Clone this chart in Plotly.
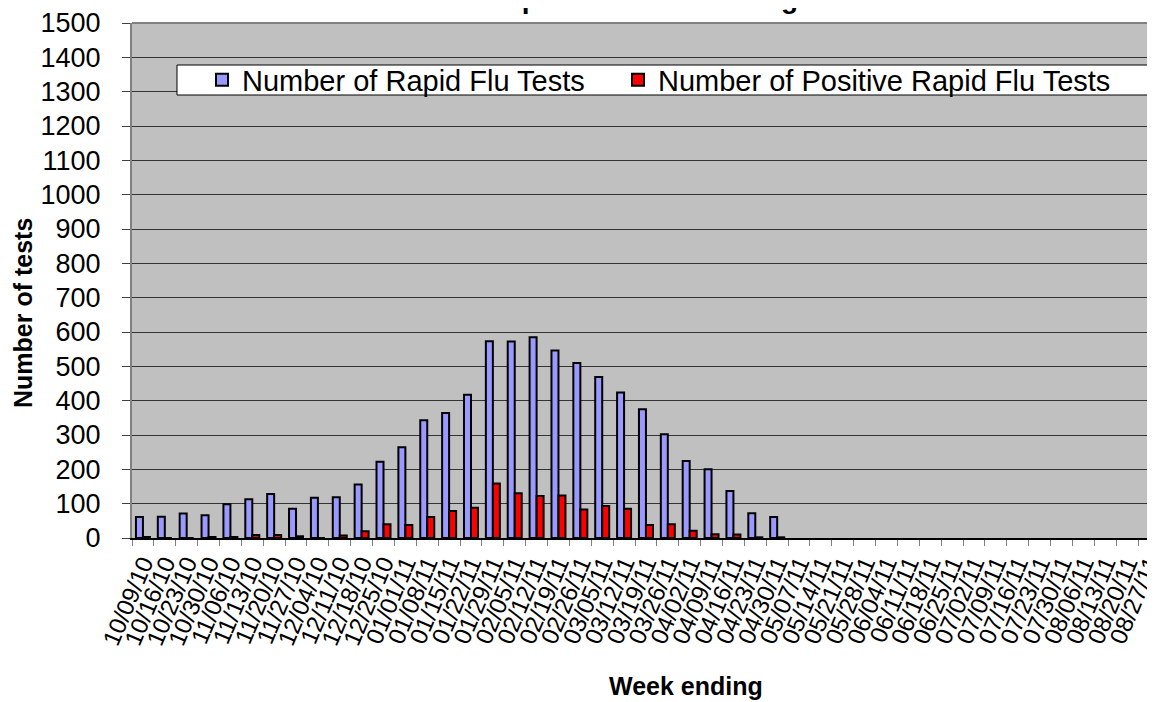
import plotly.graph_objects as go

weeks = ["10/09/10", "10/16/10", "10/23/10", "10/30/10", "11/06/10", "11/13/10", "11/20/10", "11/27/10",
         "12/04/10", "12/11/10", "12/18/10", "12/25/10", "01/01/11", "01/08/11", "01/15/11", "01/22/11",
         "01/29/11", "02/05/11", "02/12/11", "02/19/11", "02/26/11", "03/05/11", "03/12/11", "03/19/11",
         "03/26/11", "04/02/11", "04/09/11", "04/16/11", "04/23/11", "04/30/11", "05/07/11", "05/14/11",
         "05/21/11", "05/28/11", "06/04/11", "06/11/11", "06/18/11", "06/25/11", "07/02/11", "07/09/11",
         "07/16/11", "07/23/11", "07/30/11", "08/06/11", "08/13/11", "08/20/11", "08/27/11"]

rapid_tests = [61, 62, 71, 66, 98, 113, 128, 85, 117, 119, 156, 222, 264, 343, 364, 417,
               573, 572, 585, 546, 510, 469, 424, 375, 302, 224, 200, 137, 72, 61] + [None] * 17

positive_tests = [3, 0, 0, 3, 3, 9, 9, 5, 0, 7, 20, 40, 38, 61, 79, 88,
                  159, 130, 122, 124, 83, 93, 85, 38, 40, 21, 11, 10, 2, 2] + [None] * 17

y_ticks = list(range(0, 1501, 100))

FONT = "Liberation Sans, Arial, sans-serif"

# page body offset of the figure inside the browser window
OFF = 8
W, H = 1155, 702
L, R = 132 - OFF, 0
T = 23 - OFF
B = H - (538 - OFF)
pw = W - L - R
ph = H - T - B
cat_w = 21.87


def px_x(sx):
    return (sx - OFF - L) / pw


def px_y(sy):
    return (H - B - (sy - OFF)) / ph


fig = go.Figure()
fig.add_trace(go.Bar(x=weeks, y=rapid_tests, name="Number of Rapid Flu Tests", legend="legend",
                     marker=dict(color="#9999FF", line=dict(color="#000000", width=2))))
fig.add_trace(go.Bar(x=weeks, y=positive_tests, name="Number of Positive Rapid Flu Tests", legend="legend2",
                     marker=dict(color="#FF0000", line=dict(color="#000000", width=2))))

legend_common = dict(
    orientation="h", xanchor="left", yanchor="middle",
    bgcolor="rgba(0,0,0,0)", borderwidth=0,
    font=dict(family=FONT, size=29, color="#000000"),
    itemclick=False, itemdoubleclick=False,
)

fig.update_layout(
    width=W, height=H,
    margin=dict(l=L, r=R, t=T, b=B, pad=0, autoexpand=False),
    paper_bgcolor="#FFFFFF",
    plot_bgcolor="#C0C0C0",
    barmode="group",
    bargap=0.36,
    bargroupgap=0,
    font=dict(family=FONT, color="#000000"),
    showlegend=True,
    legend=dict(x=px_x(202), y=px_y(80), **legend_common),
    legend2=dict(x=px_x(618), y=px_y(80), **legend_common),
    xaxis=dict(
        type="category",
        range=[-0.5, -0.5 + pw / cat_w],
        tickmode="array", tickvals=weeks, ticktext=weeks,
        tickangle=-67,
        tickfont=dict(family=FONT, size=24, color="#000000"),
        ticks="outside", ticklen=6, tickcolor="#808080", tickwidth=1,
        tickson="boundaries",
        showline=True, linecolor="#000000", linewidth=2,
        showgrid=False, zeroline=False,
        automargin=False,
        fixedrange=True,
    ),
    yaxis=dict(
        range=[0, 1500],
        tickvals=y_ticks,
        tickfont=dict(family=FONT, size=27, color="#000000"),
        ticks="outside", ticklen=8, tickcolor="#404040", tickwidth=1,
        ticklabelstandoff=16,
        showline=True, linecolor="#808080", linewidth=2,
        showgrid=True, gridcolor="#333333", gridwidth=1,
        zeroline=False,
        automargin=False,
        fixedrange=True,
    ),
    annotations=[
        dict(text="<b>Rapid Influenza Testing</b>", xref="paper", yref="paper",
             x=px_x(642), y=px_y(-2), xanchor="center", yanchor="middle",
             showarrow=False, font=dict(family=FONT, size=28, color="#000000")),
        dict(text="<b>Number of tests</b>", xref="paper", yref="paper",
             x=px_x(23), y=px_y(313), xanchor="center", yanchor="middle", textangle=-90,
             showarrow=False, font=dict(family=FONT, size=25, color="#000000")),
        dict(text="<b>Week ending</b>", xref="paper", yref="paper",
             x=px_x(686), y=px_y(686), xanchor="center", yanchor="middle",
             showarrow=False, font=dict(family=FONT, size=25, color="#000000")),
    ],
    shapes=[
        dict(type="line", xref="paper", yref="paper", x0=0, x1=1, y0=1, y1=1,
             line=dict(color="#808080", width=2)),
        dict(type="rect", xref="paper", yref="paper", layer="above",
             x0=px_x(177), x1=px_x(1175), y0=px_y(95), y1=px_y(65),
             fillcolor="#FFFFFF", line=dict(color="#000000", width=1)),
    ],
)

fig.write_html("out.html")
